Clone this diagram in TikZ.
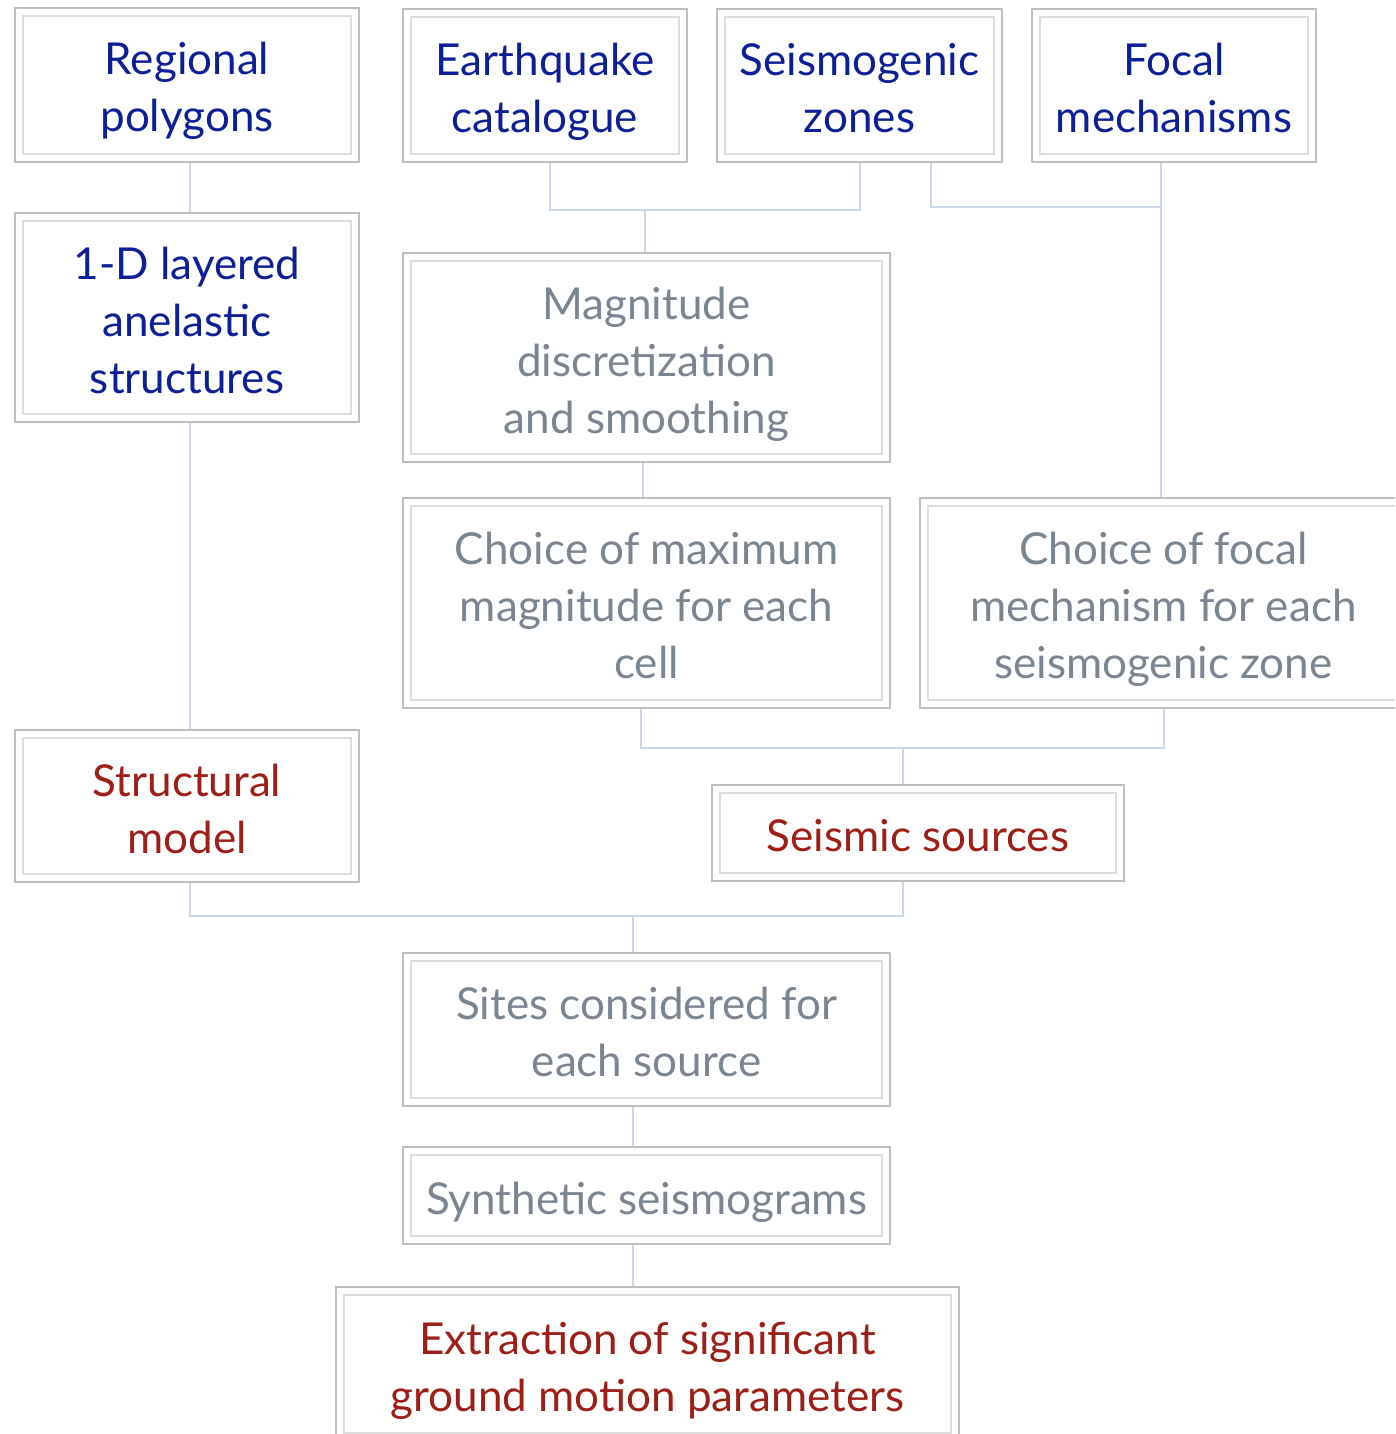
\documentclass[tikz,border=0pt]{standalone}
\usepackage{fontspec}
\setmainfont{Lato}
\usetikzlibrary{calc}
\definecolor{tblue}{HTML}{0D1F97}
\definecolor{tred}{HTML}{9E1E18}
\definecolor{tgray}{HTML}{7B8591}
\definecolor{lineblue}{HTML}{C9D6EC}
\definecolor{outerc}{HTML}{BEBEBE}
\definecolor{innerc}{HTML}{DDDDDD}
\newcommand{\lstr}{\rule[-10pt]{0pt}{57pt}}
\tikzset{
  box/.style={draw=outerc, line width=2.2pt, fill=white, align=center, inner sep=0pt,
    font=\fontsize{44}{57}\selectfont},
  bluet/.style={text=tblue},
  redt/.style={text=tred},
  grayt/.style={text=tgray},
  conn/.style={draw=lineblue, line width=2pt},
  innerbox/.style={draw=innerc, line width=1.6pt}
}
\begin{document}
\begin{tikzpicture}[x=1pt,y=1pt]
\useasboundingbox (0,0) rectangle (1395,-1434);
\clip (0,0) rectangle (1395,-1434);
% junction coordinates
\coordinate (j1) at (645,-210);
\coordinate (j2) at (1161,-207);
\coordinate (j3) at (903,-748);
\coordinate (j4) at (633,-916);
\coordinate (jl) at (190,0);
\coordinate (jm) at (643,0);
\coordinate (jc) at (641,0);
\coordinate (js) at (931,0);

\node[box,bluet,minimum width=344pt,minimum height=154pt] (reg) at (187,-85) {Regional\lstr\\polygons\lstr};
\node[box,bluet,minimum width=284pt,minimum height=153pt] (eq) at (545,-85.5) {Earthquake\lstr\\catalogue\lstr};
\node[box,bluet,minimum width=285pt,minimum height=153pt] (sz) at (859.5,-85.5) {Seismogenic\lstr\\zones\lstr};
\node[box,bluet,minimum width=284pt,minimum height=153pt] (fm) at (1174,-85.5) {Focal\lstr\\mechanisms\lstr};
\node[box,bluet,minimum width=344pt,minimum height=209pt] (oned) at (187,-317.5) {1-D layered\lstr\\anelastic\lstr\\structures\lstr};
\node[box,grayt,minimum width=487pt,minimum height=209pt] (mag) at (646.5,-357.5) {Magnitude\lstr\\discretization\lstr\\and smoothing\lstr};
\node[box,grayt,minimum width=487pt,minimum height=210pt] (cmax) at (646.5,-603) {Choice of maximum\lstr\\magnitude for each\lstr\\cell\lstr};
\node[box,grayt,minimum width=487pt,minimum height=210pt] (cf) at (1163.5,-603) {Choice of focal\lstr\\mechanism for each\lstr\\seismogenic zone\lstr};
\node[box,redt,minimum width=344pt,minimum height=152pt] (struct) at (187,-806) {Structural\lstr\\model\lstr};
\node[box,redt,minimum width=412pt,minimum height=96pt] (ss) at (918,-833) {Seismic sources\lstr};
\node[box,grayt,minimum width=487pt,minimum height=153pt] (sites) at (646.5,-1029.5) {Sites considered for\lstr\\each source\lstr};
\node[box,grayt,minimum width=487pt,minimum height=97pt] (synth) at (646.5,-1195.5) {Synthetic seismograms\lstr};
\node[box,redt,minimum width=623pt,minimum height=154pt] (ext) at (647.5,-1364) {Extraction of significant\lstr\\ground motion parameters\lstr};

\foreach \n in {reg,eq,sz,fm,oned,mag,cmax,cf,struct,ss,sites,synth,ext}
  \draw[innerbox] ([xshift=9pt,yshift=-9pt]\n.north west) rectangle ([xshift=-9pt,yshift=9pt]\n.south east);

\draw[conn] (reg.south -| jl) -- (oned.north -| jl);
\draw[conn] (oned.south -| jl) -- (struct.north -| jl);
\draw[conn] ([xshift=5pt]eq.south) |- (j1) -| (sz.south);
\draw[conn] (j1) -- (mag.north -| j1);
\draw[conn] (sz.south -| js) |- (j2);
\draw[conn] (fm.south -| j2) -- (cf.north -| j2);
\draw[conn] (mag.south -| jm) -- (cmax.north -| jm);
\draw[conn] (cmax.south -| jc) |- (j3) -| (cf.south);
\draw[conn] (j3) -- (ss.north -| j3);
\draw[conn] (struct.south -| jl) |- (j4) -| (ss.south -| j3);
\draw[conn] (j4) -- (sites.north -| j4);
\draw[conn] (sites.south -| j4) -- (synth.north -| j4);
\draw[conn] (synth.south -| j4) -- (ext.north -| j4);
\end{tikzpicture}
\end{document}
